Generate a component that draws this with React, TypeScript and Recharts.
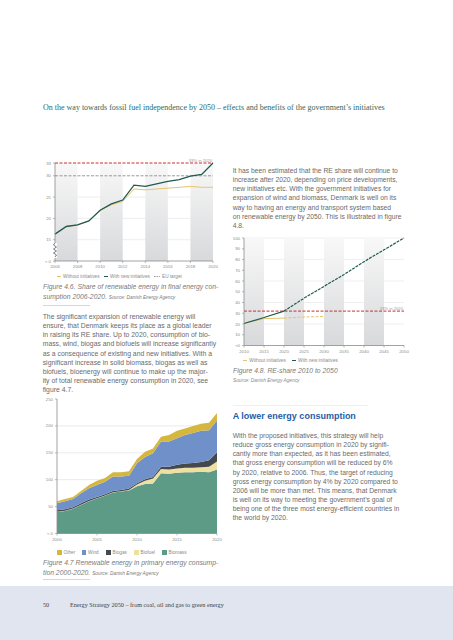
import React from 'react';
import {
  LineChart,
  Line,
  AreaChart,
  Area,
  XAxis,
  YAxis,
  ReferenceArea,
  ReferenceLine,
  CartesianGrid,
} from 'recharts';

const SANS = '"Liberation Sans", Arial, sans-serif';
const SERIF = '"Liberation Serif", "DejaVu Serif", serif';

const GREEN = '#1f5b4e';
const YELLOW = '#e8c46a';
const RED = '#c8312b';
const TEXT = '#6a6a6a';

// Figure 4.6 - RE share in final energy consumption (%)
const years46 = [2006, 2007, 2008, 2009, 2010, 2011, 2012, 2013, 2014, 2015, 2016, 2017, 2018, 2019, 2020];
const withNew46 = [16.3, 18.1, 18.5, 19.4, 21.9, 23.4, 24.3, 27.8, 27.5, 28.1, 28.7, 29.1, 29.9, 30.3, 33.0];
const without46 = [16.3, 18.1, 18.5, 19.4, 21.9, 23.2, 24.0, 26.9, 26.7, 26.9, 27.1, 27.3, 27.5, 27.3, 27.3];
const xTicks46 = [2006, 2008, 2010, 2012, 2014, 2016, 2018, 2020];
const yTicks46 = [10, 15, 20, 25, 30, 33];
const bands46 = [[2006, 2008], [2010, 2012], [2014, 2016], [2018, 2020]];
const euTarget46 = 30;
const goal46 = 33;

// Figure 4.7 - renewable energy in primary energy consumption (PJ)
const years47 = [2000, 2001, 2002, 2003, 2004, 2005, 2006, 2007, 2008, 2009, 2010, 2011, 2012, 2013, 2014, 2015, 2016, 2017, 2018, 2019, 2020];
const biomass47 = [40, 42, 46, 53, 60, 65, 70, 76, 78, 80, 88, 92, 93, 112, 111, 113, 114, 114, 115, 114, 119];
const biofuel47 = [0.5, 0.5, 0.5, 0.5, 0.5, 0.5, 0.5, 0.5, 0.5, 1, 3, 6, 9, 8, 8, 8, 8, 8, 8, 10, 15];
const biogas47 = [2.5, 2.5, 2.5, 2.5, 2.5, 2.5, 2.5, 2.5, 2.5, 2.5, 2.5, 3, 3, 4, 5, 7, 8, 9, 10, 12, 17];
const wind47 = [13, 15, 15, 19, 21, 22, 23, 27, 25, 24, 37, 41, 44, 47, 47, 49, 53, 56, 58, 56, 59];
const other47 = [4, 4, 4, 4, 6, 8, 7, 8, 8, 8, 8, 10, 9, 9, 12, 14, 12, 13, 13, 14, 14];
const xTicks47 = [2000, 2005, 2010, 2015, 2020];
const yTicks47 = [0, 50, 100, 150, 200, 250];

// Figure 4.8 - RE share 2010 to 2050 (%)
const years48 = [2010, 2015, 2020, 2025, 2030, 2035, 2040, 2045, 2050];
const withNewSolid48 = [20.5, 26, 32, null, null, null, null, null, null];
const withNewDash48 = [null, null, 32, 44, 55, 66, 78, 89, 100];
const withoutSolid48 = [20.5, 25, 25.5, null, null, null, null, null, null];
const withoutDash48 = [null, null, 25.5, 26.5, 27, null, null, null, null];
const yTicks48 = [0, 10, 20, 30, 40, 50, 60, 70, 80, 90, 100];
const bands48 = [[2010, 2015], [2020, 2025], [2030, 2035], [2040, 2045]];
const goal48 = 32;

const data46 = years46.map((year, i) => ({ year, withNew: withNew46[i], without: without46[i] }));
const data47 = years47.map((year, i) => ({
  year,
  biomass: biomass47[i],
  biofuel: biofuel47[i],
  biogas: biogas47[i],
  wind: wind47[i],
  other: other47[i],
}));
const data48 = years48.map((year, i) => ({
  year,
  withNewSolid: withNewSolid48[i],
  withNewDash: withNewDash48[i],
  withoutSolid: withoutSolid48[i],
  withoutDash: withoutDash48[i],
}));

const tick = { fontSize: 4.3, fill: '#8a8a8a', fontFamily: SANS };
const axisLine = { stroke: '#8c8c8c', strokeWidth: 0.8 };
const tickLine = { stroke: '#8c8c8c', strokeWidth: 0.6 };

const Lines = ({ top, left, lines, size, lh, color = TEXT, style = {} }: any) => (
  <div
    style={{
      position: 'absolute',
      top,
      left,
      fontSize: size,
      lineHeight: lh + 'px',
      color,
      whiteSpace: 'nowrap',
      ...style,
    }}
  >
    {lines.map((l: any, i: number) => (
      <div key={i}>{l}</div>
    ))}
  </div>
);

const BandGradient = ({ id }: { id: string }) => (
  <defs>
    <linearGradient id={id} x1="0" y1="0" x2="0" y2="1">
      <stop offset="0%" stopColor="#f8f8f8" />
      <stop offset="100%" stopColor="#d8d9db" />
    </linearGradient>
  </defs>
);

const LegendItem = ({ left, top, swatch, label }: any) => (
  <div
    style={{
      position: 'absolute',
      left,
      top,
      display: 'flex',
      alignItems: 'center',
      fontSize: 4.7,
      color: '#8a8a8a',
      whiteSpace: 'nowrap',
      height: 6,
    }}
  >
    {swatch}
    <span style={{ marginLeft: 2 }}>{label}</span>
  </div>
);

const Dash = ({ color, w = 4, h = 1, dashed = false }: any) =>
  dashed ? (
    <svg width={w} height={3}>
      <line x1={0} y1={1.5} x2={w} y2={1.5} stroke={color} strokeWidth={h} strokeDasharray="1.6 1" />
    </svg>
  ) : (
    <span style={{ display: 'inline-block', width: w, height: h, background: color }} />
  );

const Square = ({ color }: any) => (
  <span style={{ display: 'inline-block', width: 4.5, height: 4.5, background: color }} />
);

export default function App() {
  return (
    <div
      style={{
        position: 'absolute',
        left: 0,
        top: 0,
        width: 453,
        height: 640,
        background: '#fff',
        overflow: 'hidden',
        fontFamily: SANS,
      }}
    >
      {/* running title */}
      <div
        style={{
          position: 'absolute',
          left: 43,
          top: 102.5,
          fontFamily: SERIF,
          fontSize: 8,
          color: '#2f6a5a',
          whiteSpace: 'nowrap',
        }}
      >
        On the way towards fossil fuel independence by 2050 – effects and benefits of the government’s initiatives
      </div>

      {/* Figure 4.6 */}
      <div style={{ position: 'absolute', left: 0, top: 150 }}>
        <LineChart width={230} height={130} data={data46} margin={{ top: 13, right: 17, bottom: 7, left: 30 }}>
          <BandGradient id="band46" />
          {bands46.map(([a, b]) => (
            <ReferenceArea key={a} x1={a} x2={b} y1={10} y2={33} fill="url(#band46)" fillOpacity={1} stroke="none" ifOverflow="visible" />
          ))}
          <CartesianGrid vertical={false} horizontalValues={[15, 20, 25]} stroke="#e2e2e2" strokeWidth={0.6} />
          <XAxis
            dataKey="year"
            type="number"
            domain={[2006, 2020]}
            ticks={xTicks46}
            height={12}
            tick={tick}
            tickSize={2}
            axisLine={axisLine}
            tickLine={tickLine}
            interval={0}
          />
          <YAxis
            type="number"
            domain={[10, 33]}
            ticks={yTicks46}
            width={25}
            tick={tick}
            tickSize={2}
            axisLine={axisLine}
            tickLine={tickLine}
            tickFormatter={(v: number) => (v === 10 ? '≈ 0' : String(v))}
            interval={0}
          />
          <ReferenceLine y={euTarget46} stroke="#9a9a9a" strokeWidth={1} strokeDasharray="3 1.5" />
          <ReferenceLine
            y={goal46}
            stroke={RED}
            strokeWidth={1}
            strokeDasharray="3 1.5"
            label={{ value: '33% in 2020', position: 'insideBottomRight', offset: 1, fontSize: 4.2, fill: '#999', fontFamily: SANS }}
          />
          <Line dataKey="without" stroke={YELLOW} strokeWidth={1} dot={false} isAnimationActive={false} />
          <Line dataKey="withNew" stroke={GREEN} strokeWidth={1.3} dot={false} isAnimationActive={false} />
        </LineChart>
      </div>
      {/* broken y-axis mark */}
      <svg style={{ position: 'absolute', left: 51, top: 243 }} width={8} height={16}>
        <rect x={2} y={0} width={4} height={15} fill="#fff" />
        <polyline points="4,0 2.5,2 5.5,4 2.5,6 5.5,8 2.5,10 5.5,12 4,14" fill="none" stroke="#555" strokeWidth={0.8} />
      </svg>
      <LegendItem left={57} top={273.7} swatch={<Dash color={YELLOW} w={4} h={0.9} />} label="Without initiatives" />
      <LegendItem left={104} top={273.7} swatch={<Dash color={GREEN} w={4} h={1.6} />} label="With new initiatives" />
      <LegendItem left={154} top={273.7} swatch={<Dash color="#9a9a9a" w={6} h={1} dashed />} label="EU target" />

      <div
        style={{
          position: 'absolute',
          left: 43,
          top: 281.7,
          fontSize: 6.8,
          lineHeight: '10px',
          color: '#7a7a7a',
          fontStyle: 'italic',
          whiteSpace: 'nowrap',
        }}
      >
        <div>Figure 4.6. Share of renewable energy in final energy con-</div>
        <div>
          sumption 2006-2020. <span style={{ fontSize: 4.8 }}>Source: Danish Energy Agency</span>
        </div>
      </div>
      <div style={{ position: 'absolute', left: 43, top: 304.5, width: 47, height: 0.8, background: '#d6d6d6' }} />

      <Lines
        top={312.2}
        left={42.7}
        size={6.85}
        lh={9.1}
        lines={[
          'The significant expansion of renewable energy will',
          'ensure, that Denmark keeps its place as a global leader',
          'in raising its RE share. Up to 2020, consumption of bio-',
          'mass, wind, biogas and biofuels will increase significantly',
          'as a consequence of existing and new initiatives. With a',
          'significant increase in solid biomass, biogas as well as',
          'biofuels, bioenergy will continue to make up the major-',
          'ity of total renewable energy consumption in 2020, see',
          'figure 4.7.',
        ]}
      />

      {/* Figure 4.7 */}
      <div style={{ position: 'absolute', left: 0, top: 390 }}>
        <AreaChart width={230} height={155} data={data47} margin={{ top: 9, right: 13, bottom: 0, left: 32 }}>
          <CartesianGrid vertical={false} horizontalValues={[50, 100, 150, 200]} stroke="#dcdcdc" strokeWidth={0.6} />
          <XAxis
            dataKey="year"
            type="number"
            domain={[2000, 2020]}
            ticks={xTicks47}
            height={11.5}
            tick={tick}
            tickSize={2}
            axisLine={axisLine}
            tickLine={tickLine}
            interval={0}
          />
          <YAxis
            type="number"
            domain={[0, 250]}
            ticks={yTicks47}
            width={25}
            tick={tick}
            tickSize={2}
            axisLine={axisLine}
            tickLine={tickLine}
            tickFormatter={(v: number) => (v === 0 ? '≈ 0' : String(v))}
            interval={0}
          />
          <Area dataKey="biomass" stackId="re" type="linear" stroke="none" fill="#5d9b86" fillOpacity={1} isAnimationActive={false} />
          <Area dataKey="biofuel" stackId="re" type="linear" stroke="none" fill="#ede0a0" fillOpacity={1} isAnimationActive={false} />
          <Area dataKey="biogas" stackId="re" type="linear" stroke="none" fill="#45494d" fillOpacity={1} isAnimationActive={false} />
          <Area dataKey="wind" stackId="re" type="linear" stroke="none" fill="#7090c9" fillOpacity={1} isAnimationActive={false} />
          <Area dataKey="other" stackId="re" type="linear" stroke="none" fill="#d5b63f" fillOpacity={1} isAnimationActive={false} />
        </AreaChart>
      </div>
      <LegendItem left={57} top={549.7} swatch={<Square color="#d5b63f" />} label="Other" />
      <LegendItem left={81.5} top={549.7} swatch={<Square color="#7090c9" />} label="Wind" />
      <LegendItem left={106} top={549.7} swatch={<Square color="#45494d" />} label="Biogas" />
      <LegendItem left={134} top={549.7} swatch={<Square color="#ede0a0" />} label="Biofuel" />
      <LegendItem left={162} top={549.7} swatch={<Square color="#5d9b86" />} label="Biomass" />

      <div
        style={{
          position: 'absolute',
          left: 43,
          top: 558,
          fontSize: 6.8,
          lineHeight: '9.7px',
          color: '#7a7a7a',
          fontStyle: 'italic',
          whiteSpace: 'nowrap',
        }}
      >
        <div>Figure 4.7 Renewable energy in primary energy consump-</div>
        <div>
          tion 2000-2020. <span style={{ fontSize: 4.8 }}>Source: Danish Energy Agency</span>
        </div>
      </div>
      <div style={{ position: 'absolute', left: 43, top: 579, width: 47, height: 0.8, background: '#d6d6d6' }} />

      {/* right column */}
      <Lines
        top={166.2}
        left={232.7}
        size={6.75}
        lh={9.1}
        lines={[
          'It has been estimated that the RE share will continue to',
          'increase after 2020, depending on price developments,',
          'new initiatives etc. With the government initiatives for',
          'expansion of wind and biomass, Denmark is well on its',
          'way to having an energy and transport system based',
          'on renewable energy by 2050. This is illustrated in figure',
          '4.8.',
        ]}
      />

      {/* Figure 4.8 */}
      <div style={{ position: 'absolute', left: 230, top: 228 }}>
        <LineChart width={223} height={128} data={data48} margin={{ top: 10, right: 49, bottom: 0, left: 0 }}>
          <BandGradient id="band48" />
          {bands48.map(([a, b]) => (
            <ReferenceArea key={a} x1={a} x2={b} y1={0} y2={100} fill="url(#band48)" fillOpacity={1} stroke="none" ifOverflow="visible" />
          ))}
          <CartesianGrid vertical={false} horizontalValues={[20, 40, 60, 80, 100]} stroke="#e4e4e4" strokeWidth={0.6} />
          <XAxis
            dataKey="year"
            type="number"
            domain={[2010, 2050]}
            ticks={years48}
            height={10.5}
            tick={tick}
            tickSize={2}
            axisLine={axisLine}
            tickLine={tickLine}
            interval={0}
          />
          <YAxis
            type="number"
            domain={[0, 100]}
            ticks={yTicks48}
            width={14}
            tick={tick}
            tickSize={2}
            axisLine={axisLine}
            tickLine={tickLine}
            tickFormatter={(v: number) => (v === 0 ? '≈0' : String(v))}
            interval={0}
          />
          <ReferenceLine
            y={goal48}
            stroke={RED}
            strokeWidth={1}
            strokeDasharray="3 1.5"
            label={{ value: '33% in 2020', position: 'insideBottomRight', offset: 1, fontSize: 4.2, fill: '#999', fontFamily: SANS }}
          />
          <Line dataKey="withoutSolid" stroke={YELLOW} strokeWidth={1} dot={false} isAnimationActive={false} connectNulls={false} />
          <Line dataKey="withoutDash" stroke={YELLOW} strokeWidth={1} strokeDasharray="3 1.5" dot={false} isAnimationActive={false} connectNulls={false} />
          <Line dataKey="withNewSolid" stroke={GREEN} strokeWidth={1.2} dot={false} isAnimationActive={false} connectNulls={false} />
          <Line dataKey="withNewDash" stroke={GREEN} strokeWidth={1.2} strokeDasharray="3 1" dot={false} isAnimationActive={false} connectNulls={false} />
        </LineChart>
      </div>
      <LegendItem left={243.3} top={357.7} swatch={<Dash color={YELLOW} w={4} h={0.9} />} label="Without initiatives" />
      <LegendItem left={292} top={357.7} swatch={<Dash color={GREEN} w={4} h={1} />} label="With new initiatives" />
      <div
        style={{
          position: 'absolute',
          left: 233,
          top: 366,
          fontSize: 6.8,
          color: '#7a7a7a',
          fontStyle: 'italic',
          whiteSpace: 'nowrap',
          lineHeight: '9px',
        }}
      >
        Figure 4.8. RE-share 2010 to 2050
      </div>
      <div
        style={{
          position: 'absolute',
          left: 233,
          top: 377.5,
          fontSize: 4.8,
          color: '#8a8a8a',
          fontStyle: 'italic',
          whiteSpace: 'nowrap',
          lineHeight: '6px',
        }}
      >
        Source: Danish Energy Agency
      </div>

      <div style={{ position: 'absolute', left: 233, top: 404.5, width: 135, height: 0.8, background: '#f6f1dc' }} />
      <div
        style={{
          position: 'absolute',
          left: 232.7,
          top: 410,
          fontSize: 9,
          lineHeight: '12px',
          fontWeight: 'bold',
          color: '#1f5da6',
          whiteSpace: 'nowrap',
        }}
      >
        A lower energy consumption
      </div>
      <Lines
        top={431.2}
        left={232.7}
        size={6.75}
        lh={9.1}
        lines={[
          'With the proposed initiatives, this strategy will help',
          'reduce gross energy consumption in 2020 by signifi-',
          'cantly more than expected, as it has been estimated,',
          'that gross energy consumption will be reduced by 6%',
          'by 2020, relative to 2006. Thus, the target of reducing',
          'gross energy consumption by 4% by 2020 compared to',
          '2006 will be more than met. This means, that Denmark',
          'is well on its way to meeting the government’s goal of',
          'being one of the three most energy-efficient countries in',
          'the world by 2020.',
        ]}
      />

      {/* footer */}
      <div style={{ position: 'absolute', left: 0, top: 585.7, width: 453, height: 55, background: '#e0e5ef' }} />
      <div style={{ position: 'absolute', left: 43, top: 600.5, fontFamily: SERIF, fontSize: 6.2, color: '#444', lineHeight: '8px' }}>50</div>
      <div
        style={{
          position: 'absolute',
          left: 70,
          top: 600.5,
          fontFamily: SERIF,
          fontSize: 6.2,
          color: '#444',
          lineHeight: '8px',
          whiteSpace: 'nowrap',
        }}
      >
        Energy Strategy 2050 – from coal, oil and gas to green energy
      </div>
    </div>
  );
}
